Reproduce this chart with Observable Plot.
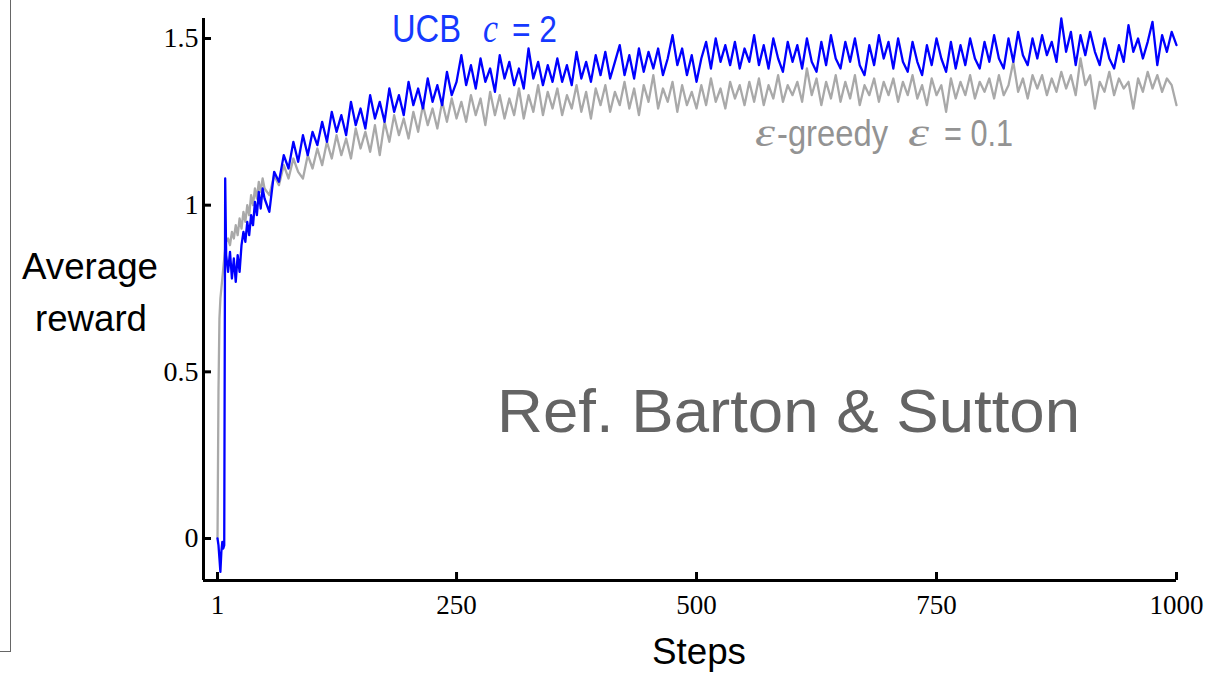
<!DOCTYPE html>
<html>
<head>
<meta charset="utf-8">
<script src="https://cdn.jsdelivr.net/npm/d3@7"></script>
<script src="https://cdn.jsdelivr.net/npm/@observablehq/plot@0.6"></script>
<style>
  html, body { margin: 0; padding: 0; background: #fff; }
  #wrap { position: relative; width: 1213px; height: 676px; overflow: hidden; }
  #neighbor { position: absolute; left: 0; top: 0; width: 10px; height: 651px;
              border-right: 1.5px solid #666; border-bottom: 1.5px solid #666; }
  #wrap svg { position: absolute; left: 0; top: 0; }
</style>
</head>
<body>
<div id="wrap"><div id="neighbor"></div></div>
<script>
// Sampled steps: every step at first, every 2nd step up to 50, then every 5th step
const firstSteps = [1, 2, 3, 4, 5, 6, 7, 8, 9, 10];
const earlySteps = d3.range(12, 51, 2);
const laterSteps = d3.range(55, 1001, 5);
const steps = firstSteps.concat(earlySteps, laterSteps);

// Average reward, UCB with c = 2
const ucbReward = [
  0, -0.02, -0.06, -0.10, -0.04, -0.01, -0.03, -0.02, 1.08, 0.85,
  0.80, 0.86, 0.78, 0.84, 0.77, 0.85, 0.80, 0.88, 0.92, 0.89,
  0.95, 0.91, 0.97, 0.94, 1.01, 0.97, 1.04, 0.99, 1.05, 1.02,
  0.98, 1.10, 1.07, 1.15, 1.11, 1.19, 1.13, 1.21, 1.15, 1.22,
  1.18, 1.25, 1.19, 1.28, 1.22, 1.27, 1.21, 1.31, 1.24, 1.29,
  1.23, 1.33, 1.26, 1.31, 1.25, 1.35, 1.28, 1.33, 1.27, 1.37,
  1.30, 1.35, 1.29, 1.38, 1.31, 1.36, 1.30, 1.40, 1.33, 1.37,
  1.45, 1.36, 1.42, 1.35, 1.44, 1.37, 1.41, 1.34, 1.45, 1.38,
  1.43, 1.36, 1.41, 1.35, 1.47, 1.38, 1.43, 1.36, 1.42, 1.37,
  1.44, 1.37, 1.42, 1.36, 1.46, 1.38, 1.43, 1.37, 1.45, 1.39,
  1.46, 1.38, 1.43, 1.48, 1.39, 1.45, 1.38, 1.47, 1.40, 1.46,
  1.41, 1.47, 1.39, 1.44, 1.51, 1.42, 1.47, 1.39, 1.45, 1.37,
  1.44, 1.49, 1.41, 1.50, 1.43, 1.48, 1.42, 1.49, 1.41, 1.47,
  1.43, 1.51, 1.42, 1.48, 1.41, 1.50, 1.44, 1.40, 1.49, 1.43,
  1.48, 1.41, 1.50, 1.43, 1.40, 1.49, 1.42, 1.51, 1.44, 1.41,
  1.49, 1.43, 1.50, 1.42, 1.39, 1.48, 1.42, 1.51, 1.44, 1.49,
  1.41, 1.50, 1.43, 1.40, 1.49, 1.43, 1.39, 1.48, 1.42, 1.50,
  1.44, 1.40, 1.49, 1.41, 1.48, 1.42, 1.50, 1.44, 1.41, 1.49,
  1.43, 1.51, 1.44, 1.41, 1.50, 1.43, 1.52, 1.45, 1.42, 1.50,
  1.44, 1.51, 1.45, 1.49, 1.43, 1.56, 1.46, 1.52, 1.42, 1.51,
  1.45, 1.52, 1.46, 1.42, 1.50, 1.44, 1.41, 1.48, 1.43, 1.54,
  1.46, 1.50, 1.44, 1.49, 1.55, 1.42, 1.51, 1.46, 1.52, 1.48
];

// Average reward, ε-greedy with ε = 0.1
const greedyReward = [
  0, 0.44, 0.66, 0.72, 0.75, 0.78, 0.81, 0.84, 0.87, 0.89,
  0.90, 0.88, 0.92, 0.90, 0.94, 0.91, 0.96, 0.93, 0.98, 0.95,
  1.00, 0.97, 1.03, 1.00, 1.05, 1.02, 1.07, 1.04, 1.08, 1.05,
  1.03, 1.09, 1.06, 1.12, 1.08, 1.14, 1.10, 1.08, 1.15, 1.11,
  1.17, 1.12, 1.19, 1.14, 1.21, 1.15, 1.20, 1.14, 1.23, 1.17,
  1.22, 1.16, 1.24, 1.15, 1.25, 1.19, 1.27, 1.21, 1.26, 1.20,
  1.28, 1.22, 1.30, 1.24, 1.29, 1.23, 1.31, 1.25, 1.32, 1.26,
  1.31, 1.25, 1.33, 1.27, 1.32, 1.24, 1.34, 1.27, 1.33, 1.26,
  1.32, 1.27, 1.35, 1.26, 1.33, 1.28, 1.36, 1.27, 1.34, 1.29,
  1.35, 1.27, 1.33, 1.29, 1.36, 1.28, 1.34, 1.26, 1.35, 1.30,
  1.36, 1.28, 1.34, 1.30, 1.37, 1.29, 1.35, 1.27, 1.36, 1.31,
  1.39, 1.29, 1.35, 1.31, 1.37, 1.28, 1.36, 1.30, 1.34, 1.29,
  1.36, 1.30, 1.38, 1.31, 1.35, 1.29, 1.37, 1.32, 1.36, 1.30,
  1.37, 1.31, 1.38, 1.30, 1.36, 1.32, 1.39, 1.31, 1.36, 1.33,
  1.37, 1.31, 1.41, 1.33, 1.38, 1.30, 1.37, 1.32, 1.39, 1.31,
  1.37, 1.32, 1.39, 1.30, 1.36, 1.33, 1.38, 1.31, 1.37, 1.33,
  1.38, 1.31, 1.37, 1.33, 1.39, 1.32, 1.36, 1.30, 1.38, 1.33,
  1.36, 1.28, 1.38, 1.32, 1.37, 1.33, 1.39, 1.32, 1.37, 1.34,
  1.38, 1.32, 1.39, 1.33, 1.36, 1.43, 1.34, 1.38, 1.32, 1.39,
  1.35, 1.39, 1.33, 1.38, 1.34, 1.40, 1.35, 1.39, 1.33, 1.44,
  1.36, 1.39, 1.29, 1.37, 1.34, 1.40, 1.33, 1.38, 1.35, 1.37,
  1.29, 1.38, 1.34, 1.40, 1.35, 1.39, 1.34, 1.38, 1.36, 1.30
];

const xTicks = [1, 250, 500, 750, 1000];
const yTicks = [0, 0.5, 1, 1.5];

const ucbRows = steps.map((s, i) => ({step: s, reward: ucbReward[i]}));
const greedyRows = steps.map((s, i) => ({step: s, reward: greedyReward[i]}));

const xDomain = [-13.6, 1000];
const yDomain = [-0.126, 1.56];

const chart = Plot.plot({
  width: 1213,
  height: 676,
  marginLeft: 203,
  marginRight: 37,
  marginTop: 18,
  marginBottom: 96,
  x: {domain: xDomain},
  y: {domain: yDomain},
  style: {background: "transparent", fontFamily: "'Liberation Serif', serif", color: "#000"},
  marks: [
    Plot.line(greedyRows, {x: "step", y: "reward", stroke: "#a9a9a9", strokeWidth: 2.3}),
    Plot.line(ucbRows, {x: "step", y: "reward", stroke: "#0000ff", strokeWidth: 2.3}),
    Plot.ruleX([xDomain[0]], {stroke: "#000", strokeWidth: 3}),
    Plot.ruleY([yDomain[0]], {stroke: "#000", strokeWidth: 3}),
    Plot.axisY(yTicks, {tickSize: -8, tickPadding: 13, strokeWidth: 3, fontSize: 28,
                        label: null, tickFormat: d => String(d)}),
    Plot.axisX(xTicks, {tickSize: -8, tickPadding: 22, strokeWidth: 3, fontSize: 27,
                        label: null, tickFormat: d => String(d)})
  ]
});

document.getElementById("wrap").appendChild(chart);

// Axis titles and series labels
const svg = d3.select(chart);
const sans = "'Liberation Sans', Arial, sans-serif";
const serif = "'Liberation Serif', 'Times New Roman', serif";

function label(str, x, y, o) {
  const t = svg.append("text")
    .attr("x", x).attr("y", y)
    .attr("font-family", o.family || sans)
    .attr("font-size", o.size)
    .attr("font-style", o.italic ? "italic" : "normal")
    .attr("fill", o.fill || "#000")
    .attr("text-anchor", o.anchor || "start")
    .text(str);
  if (o.length) t.attr("textLength", o.length).attr("lengthAdjust", "spacingAndGlyphs");
  return t;
}

label("Average", 90, 279, {size: 37, anchor: "middle", length: 136});
label("reward", 91, 331, {size: 37, anchor: "middle", length: 112});
label("Steps", 699, 664, {size: 37, anchor: "middle", length: 94});

const ucbColor = "#1539ff";
label("UCB", 392, 42, {size: 38, fill: ucbColor, length: 69});
label("c", 483, 42, {size: 40, family: serif, italic: true, fill: ucbColor, length: 15});
label("= 2", 512, 42, {size: 37, fill: ucbColor, length: 45});

const greedyColor = "#939393";
label("ε", 755, 146, {size: 40, family: serif, italic: true, fill: greedyColor, length: 20});
label("-greedy", 777, 146, {size: 37, fill: greedyColor, length: 111});
label("ε", 908, 146, {size: 40, family: serif, italic: true, fill: greedyColor, length: 21});
label("= 0.1", 944, 146, {size: 37, fill: greedyColor, length: 69});

label("Ref. Barton & Sutton", 497, 432, {size: 61, fill: "#646464", length: 583});
</script>
</body>
</html>
